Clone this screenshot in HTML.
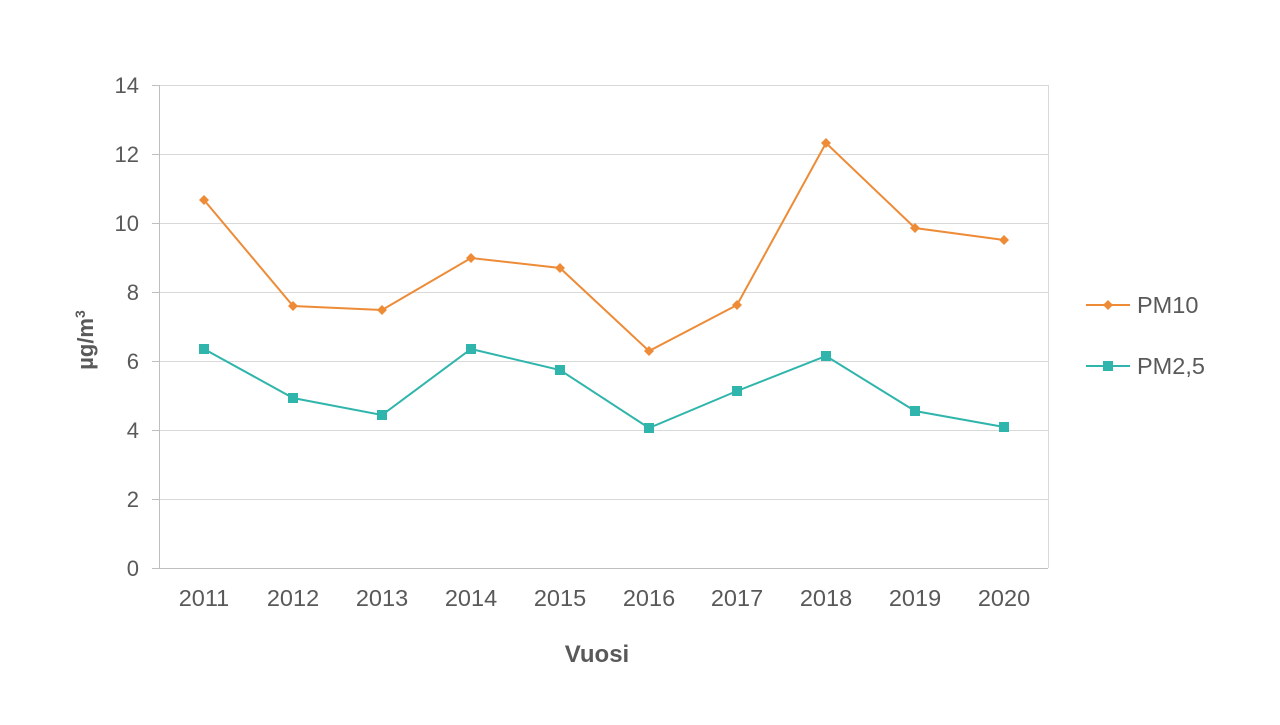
<!DOCTYPE html>
<html><head><meta charset="utf-8"><style>body{margin:0;background:#fff}</style></head>
<body>
<svg width="1280" height="720" xmlns="http://www.w3.org/2000/svg" font-family="Liberation Sans, Arial, sans-serif">
<rect width="1280" height="720" fill="#fff"/>
<g stroke="#d9d9d9" stroke-width="1">
<line x1="159" y1="85.5" x2="1048" y2="85.5"/>
<line x1="159" y1="154.5" x2="1048" y2="154.5"/>
<line x1="159" y1="223.5" x2="1048" y2="223.5"/>
<line x1="159" y1="292.5" x2="1048" y2="292.5"/>
<line x1="159" y1="361.5" x2="1048" y2="361.5"/>
<line x1="159" y1="430.5" x2="1048" y2="430.5"/>
<line x1="159" y1="499.5" x2="1048" y2="499.5"/>
<line x1="1048.5" y1="85" x2="1048.5" y2="568"/>
</g>
<g stroke="#bfbfbf" stroke-width="1">
<line x1="159.5" y1="85" x2="159.5" y2="568"/>
<line x1="159" y1="568.5" x2="1048" y2="568.5"/>
<line x1="152" y1="85.5" x2="159" y2="85.5"/>
<line x1="152" y1="154.5" x2="159" y2="154.5"/>
<line x1="152" y1="223.5" x2="159" y2="223.5"/>
<line x1="152" y1="292.5" x2="159" y2="292.5"/>
<line x1="152" y1="361.5" x2="159" y2="361.5"/>
<line x1="152" y1="430.5" x2="159" y2="430.5"/>
<line x1="152" y1="499.5" x2="159" y2="499.5"/>
<line x1="152" y1="568.5" x2="159" y2="568.5"/>
</g>
<g fill="#595959" font-size="22" text-anchor="end">
<text x="139" y="93">14</text><text x="139" y="162">12</text><text x="139" y="231">10</text>
<text x="139" y="300">8</text><text x="139" y="369">6</text><text x="139" y="438">4</text>
<text x="139" y="507">2</text><text x="139" y="576">0</text>
</g>
<g fill="#595959" font-size="23.5" text-anchor="middle">
<text x="204" y="606">2011</text><text x="293" y="606">2012</text><text x="382" y="606">2013</text>
<text x="471" y="606">2014</text><text x="560" y="606">2015</text><text x="649" y="606">2016</text>
<text x="737" y="606">2017</text><text x="826" y="606">2018</text><text x="915" y="606">2019</text>
<text x="1004" y="606">2020</text>
</g>
<text x="597" y="662" fill="#595959" font-size="24" font-weight="bold" text-anchor="middle">Vuosi</text>
<text transform="translate(93,340) rotate(-90)" fill="#595959" font-size="22" font-weight="bold" text-anchor="middle">µg/m<tspan font-size="14" dy="-8">3</tspan></text>
<polyline fill="none" stroke="#ED8B37" stroke-width="2" points="204,200 293,306 382,310 471,258 560,268 649,351 737,305 826,143 915,228 1004,240"/>
<g fill="#ED8B37">
<path d="M204,195l5,5l-5,5l-5,-5z"/><path d="M293,301l5,5l-5,5l-5,-5z"/><path d="M382,305l5,5l-5,5l-5,-5z"/>
<path d="M471,253l5,5l-5,5l-5,-5z"/><path d="M560,263l5,5l-5,5l-5,-5z"/><path d="M649,346l5,5l-5,5l-5,-5z"/>
<path d="M737,300l5,5l-5,5l-5,-5z"/><path d="M826,138l5,5l-5,5l-5,-5z"/><path d="M915,223l5,5l-5,5l-5,-5z"/>
<path d="M1004,235l5,5l-5,5l-5,-5z"/>
</g>
<polyline fill="none" stroke="#2FB5AB" stroke-width="2" points="204,349 293,398 382,415 471,349 560,370 649,428 737,391 826,356 915,411 1004,427"/>
<g fill="#2FB5AB">
<rect x="199" y="344" width="10" height="10"/><rect x="288" y="393" width="10" height="10"/><rect x="377" y="410" width="10" height="10"/>
<rect x="466" y="344" width="10" height="10"/><rect x="555" y="365" width="10" height="10"/><rect x="644" y="423" width="10" height="10"/>
<rect x="732" y="386" width="10" height="10"/><rect x="821" y="351" width="10" height="10"/><rect x="910" y="406" width="10" height="10"/>
<rect x="999" y="422" width="10" height="10"/>
</g>
<line x1="1086" y1="305" x2="1130" y2="305" stroke="#ED8B37" stroke-width="2"/>
<path d="M1108,300l5,5l-5,5l-5,-5z" fill="#ED8B37"/>
<text x="1137" y="313" fill="#595959" font-size="23.5">PM10</text>
<line x1="1086" y1="366" x2="1130" y2="366" stroke="#2FB5AB" stroke-width="2"/>
<rect x="1103" y="361" width="10" height="10" fill="#2FB5AB"/>
<text x="1137" y="374" fill="#595959" font-size="23.5">PM2,5</text>
</svg>
</body></html>
